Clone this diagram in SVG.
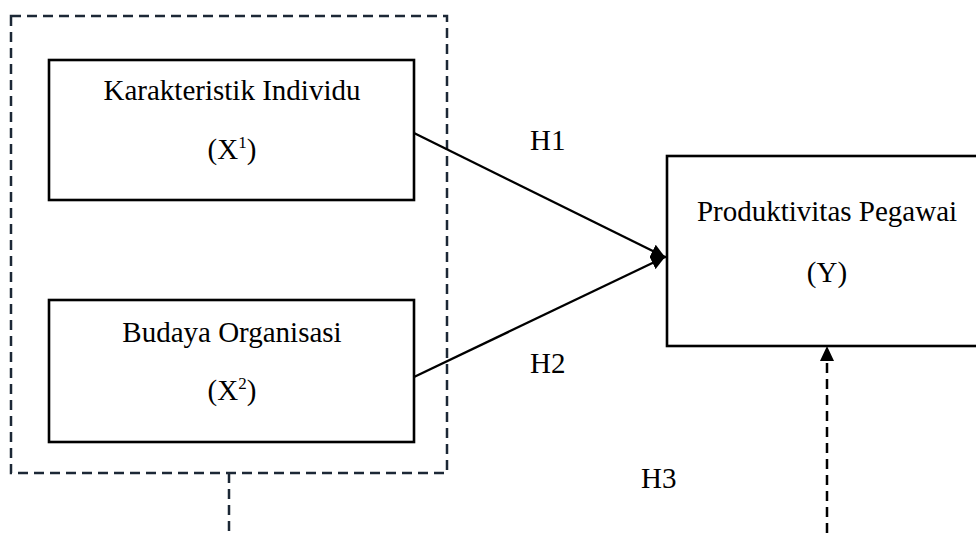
<svg xmlns="http://www.w3.org/2000/svg" width="976" height="533" viewBox="0 0 976 533">
  <style>
    .box { fill: #ffffff; stroke: #000000; stroke-width: 2.6; }
    .t { font-family: "Liberation Serif", "Times New Roman", serif; font-size: 29px; fill: #000000; text-anchor: middle; }
    .lbl { font-family: "Liberation Serif", "Times New Roman", serif; font-size: 29px; fill: #000000; }
    .sup { font-size: 17px; }
    .solid { stroke: #000000; stroke-width: 2.3; fill: none; }
    .dash { stroke: #1c2836; stroke-width: 2.5; fill: none; stroke-dasharray: 10 6; }
  </style>
  <defs>
    <marker id="ah" viewBox="0 0 10 10" refX="10" refY="5" markerWidth="6" markerHeight="6" orient="auto" markerUnits="strokeWidth">
      <path d="M0,0 L10,5 L0,10 z" fill="#000000"/>
    </marker>
  </defs>
  <rect width="976" height="533" fill="#ffffff"/>

  <g id="group-x">
    <rect x="11" y="16" width="436" height="457" class="dash"/>
  </g>

  <g id="node-x1">
    <rect x="49" y="60" width="365" height="140" class="box"/>
    <text x="232" y="100" class="t">Karakteristik Individu</text>
    <text x="232" y="159" class="t">(X<tspan class="sup" dy="-11">1</tspan><tspan dy="11">)</tspan></text>
  </g>

  <g id="node-x2">
    <rect x="49" y="300" width="365" height="142" class="box"/>
    <text x="232" y="342" class="t">Budaya Organisasi</text>
    <text x="232" y="400" class="t">(X<tspan class="sup" dy="-11">2</tspan><tspan dy="11">)</tspan></text>
  </g>

  <g id="node-y">
    <rect x="667" y="156" width="320" height="190" class="box"/>
    <text x="827" y="221" class="t">Produktivitas Pegawai</text>
    <text x="827" y="282" class="t">(Y)</text>
  </g>

  <g id="connectors">
    <line x1="414" y1="133" x2="665" y2="257" class="solid" marker-end="url(#ah)"/>
    <line x1="414" y1="377" x2="665" y2="257" class="solid" marker-end="url(#ah)"/>
    <line x1="658" y1="257" x2="667" y2="257" class="solid"/>
    <line x1="229" y1="473" x2="229" y2="533" class="dash"/>
    <line x1="827" y1="533" x2="827" y2="360" class="dash" style="stroke:#000000"/>
    <path d="M827,346 L820,361 L834,361 z" fill="#000000"/>
  </g>

  <g id="labels">
    <text x="530" y="150" class="lbl">H1</text>
    <text x="530" y="373" class="lbl">H2</text>
    <text x="641" y="488" class="lbl">H3</text>
  </g>
</svg>
